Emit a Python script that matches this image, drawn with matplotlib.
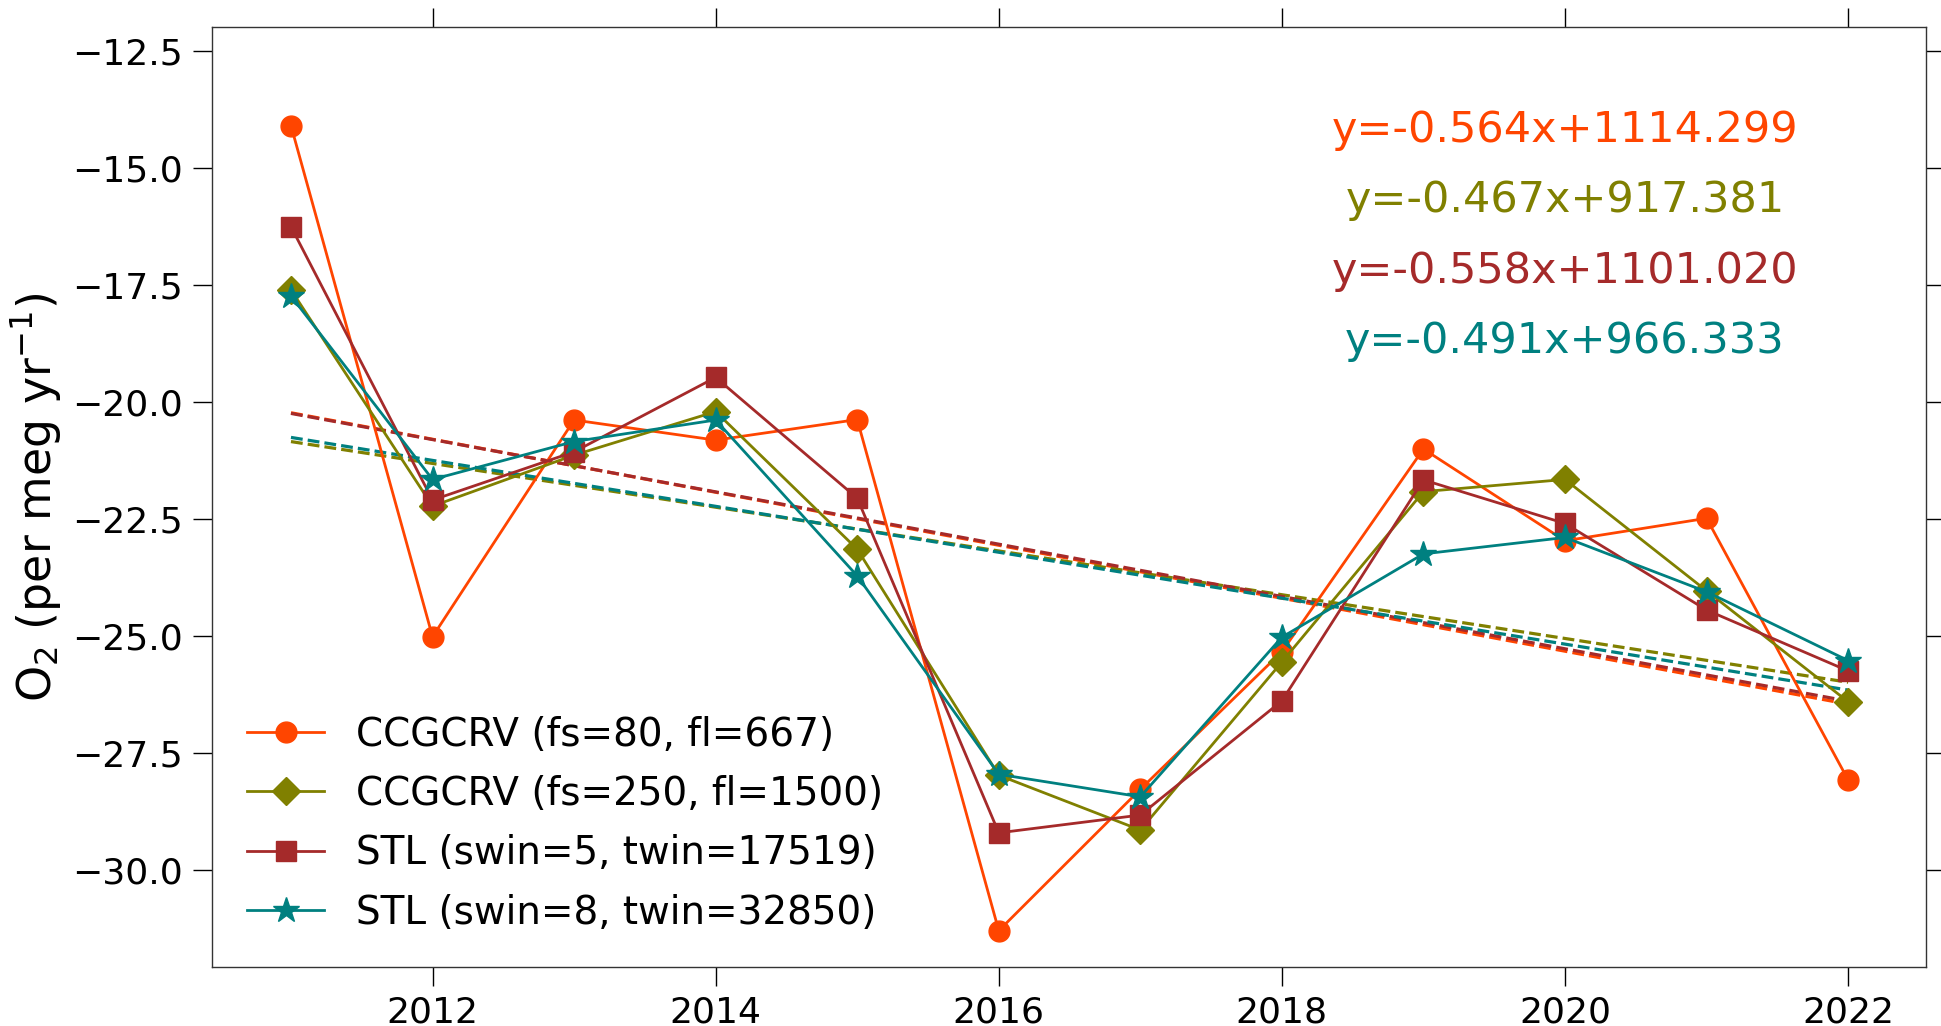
import numpy as np
import matplotlib
matplotlib.use("Agg")
import matplotlib.pyplot as plt

years = np.arange(2011, 2023)

ccg_80 = [-14.10, -25.02, -20.39, -20.82, -20.38, -31.30, -28.28, -25.34, -21.01, -22.97, -22.49, -28.08]
ccg_250 = [-17.61, -22.23, -21.14, -20.21, -23.15, -27.98, -29.15, -25.56, -21.92, -21.66, -24.04, -26.41]
stl_5 = [-16.26, -22.10, -21.07, -19.48, -22.06, -29.21, -28.83, -26.39, -21.67, -22.60, -24.45, -25.75]
stl_8 = [-17.74, -21.66, -20.85, -20.39, -23.72, -27.96, -28.44, -25.03, -23.25, -22.90, -24.06, -25.53]

labels = ['CCGCRV (fs=80, fl=667)', 'CCGCRV (fs=250, fl=1500)',
          'STL (swin=5, twin=17519)', 'STL (swin=8, twin=32850)']
equations = ['y=-0.564x+1114.299', 'y=-0.467x+917.381',
             'y=-0.558x+1101.020', 'y=-0.491x+966.333']
eq_y = [-14.2, -15.7, -17.2, -18.7]

colors = ['orangered', 'olive', 'brown', 'teal']
markers = ['o', 'D', 's', '*']

fig = plt.figure(figsize=(19.41, 10.26), dpi=100)
ax = fig.add_axes([0.10907, 0.05780, 0.88320, 0.91559])

series = [ccg_80, ccg_250, stl_5, stl_8]

# trend lines first, so the data lines sit on top
for vals, c in zip(series, colors):
    p = np.polyfit(years, vals, 1)
    ax.plot(years, np.polyval(p, years), '--', color=c, lw=2.3)

for vals, c, m, lab in zip(series, colors, markers, labels):
    ms = 19 if m == '*' else (14 if m == 'D' else 15)
    ax.plot(years, vals, '-', color=c, marker=m, ms=ms, lw=2.0, label=lab)

for eq, yy, c in zip(equations, eq_y, colors):
    ax.text(2020, yy, eq, color=c, fontsize=31, ha='center', va='center')

ax.set_xlim(2010.44, 2022.55)
ax.set_ylim(-32.07, -12.0)
ax.set_yticks([-30.0, -27.5, -25.0, -22.5, -20.0, -17.5, -15.0, -12.5])
ax.set_xticks([2012, 2014, 2016, 2018, 2020, 2022])

ax.tick_params(direction='out', length=13.5, width=1.0, labelsize=26,
               top=True, right=True, pad=7)
for s in ax.spines.values():
    s.set_linewidth(1.0)
    s.set_color('#333333')

ax.set_ylabel('O$_2$ (per meg yr$^{-1}$)', fontsize=33, labelpad=6)

ax.legend(loc='lower left', frameon=False, fontsize=28, handlelength=2.0,
          labelspacing=0.55)

fig.savefig('out.png', dpi=100)
